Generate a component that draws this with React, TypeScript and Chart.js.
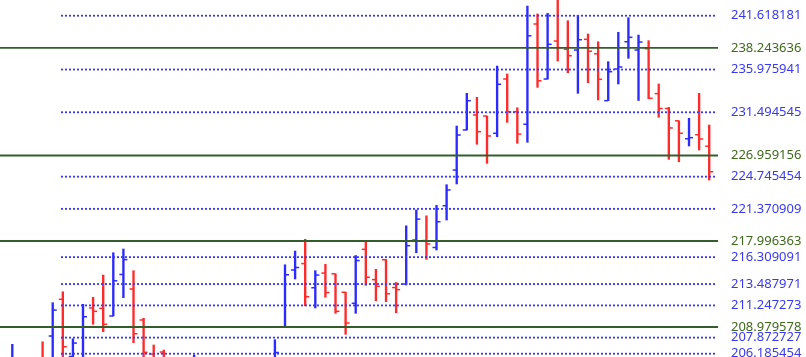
import React, { useEffect, useRef } from 'react';
import { Chart, registerables } from 'chart.js';

Chart.register(...registerables);

// OHLC values per bar index (null = bar entirely below the visible range / not shown)
const opens: (number | null)[] = [
  null, 205.2, null, null, 205.6, 208.04, 211.89, 205.9, 205.7, 210.98,
  210.94, 210.14, 214.49, 212.97, 209.72, 206.15, 206.36, null, null, 205.0,
  null, null, null, null, null, null, null, 205.5, 209.0, 214.96,
  215.63, 213.10, 214.64, 214.56, 212.63, 211.47, 217.13, 213.95, 216.04, 213.12,
  213.49, 218.10, 218.05, 217.32, 221.70, 225.44, 229.64, 231.21, 231.10, 229.29,
  234.98, 231.55, 230.24, 240.75, 234.98, 238.96, 238.10, 238.02, 239.14, 237.63,
  232.71, 236.03, 238.89, 238.02, 238.16, 233.45, 231.89, 230.60, 228.72, 229.14,
  227.94,
];
const highs: (number | null)[] = [
  null, 207.17, null, null, 207.44, 211.53, 212.68, 207.75, 211.36, 212.10,
  214.43, 216.77, 217.16, 214.89, 209.90, 207.10, 206.57, null, null, 206.05,
  null, null, null, null, null, null, null, 207.65, 215.51, 216.95,
  218.18, 214.89, 215.56, 214.56, 212.63, 216.48, 218.05, 215.03, 216.08, 213.65,
  219.59, 221.25, 220.64, 221.74, 223.90, 230.05, 233.48, 233.06, 231.10, 236.34,
  235.51, 231.97, 242.63, 241.80, 241.87, 243.50, 241.09, 241.66, 239.70, 238.89,
  236.80, 239.88, 241.41, 239.59, 239.00, 234.46, 232.01, 230.60, 230.86, 233.48,
  230.16,
];
const lows: (number | null)[] = [
  null, 205.0, null, null, 204.8, 205.5, 205.6, 205.5, 205.3, 209.27,
  208.49, 210.14, 212.06, 207.34, 205.5, 205.3, 205.2, null, null, 204.8,
  null, null, null, null, null, null, null, 205.2, 208.98, 214.02,
  211.21, 210.98, 212.10, 210.42, 208.22, 210.42, 213.35, 211.74, 211.64, 210.48,
  213.39, 216.77, 216.08, 217.06, 220.20, 223.98, 229.64, 228.14, 226.14, 228.93,
  230.44, 228.24, 228.35, 234.11, 234.98, 236.87, 235.64, 233.48, 234.59, 232.78,
  232.71, 234.46, 237.15, 232.73, 232.91, 230.97, 226.56, 226.31, 227.96, 227.54,
  224.39,
];
const closes: (number | null)[] = [
  null, 205.7, null, null, 205.0, 210.76, 206.92, 207.3, 210.06, 210.63,
  209.27, 213.83, 216.05, 208.28, 206.33, 205.7, 205.6, null, null, 205.7,
  null, null, null, null, null, null, null, 206.31, 214.46, 215.22,
  212.16, 214.43, 212.60, 210.63, 209.40, 215.95, 214.20, 213.25, 212.47, 212.90,
  217.51, 220.29, 217.69, 220.02, 223.35, 229.11, 232.71, 229.46, 229.01, 234.43,
  231.55, 229.21, 239.51, 234.80, 238.62, 238.26, 237.42, 239.10, 237.89, 234.95,
  235.75, 236.24, 239.35, 238.86, 232.96, 231.89, 229.85, 229.29, 228.83, 228.69,
  225.26,
];

// Horizontal level lines (dotted blue) and key levels (solid green)
const blueLevels = [
  241.618181, 235.975941, 231.494545, 224.745454, 221.370909,
  216.309091, 213.487971, 211.247273, 207.872727, 206.185454,
];
const greenLevels = [238.243636, 226.959156, 217.996363, 208.979578];

const UP = '#2b2bff';
const DOWN = '#ff2b2b';
const DOT_BLUE = '#3535ff';
const LINE_GREEN = '#335e2c';
const TEXT_BLUE = '#3838f4';
const TEXT_GREEN = '#3f6a1c';

const X_MIN = -0.218;
const X_MAX = 70.87;
const Y_MIN = 205.84;
const Y_MAX = 243.264;
const DOT_START = 5.82;
const DOT_END = 70.67;
const TICK_OFF = 0.2;

export default function App() {
  const ref = useRef<HTMLCanvasElement>(null);

  useEffect(() => {
    if (!ref.current) return;
    const idx = opens.map((_, i) => i).filter((i) => opens[i] != null);
    const colorOf = (i: number) => ((closes[i] as number) >= (opens[i] as number) ? UP : DOWN);

    const datasets: any[] = [];
    greenLevels.forEach((v) => {
      datasets.push({
        type: 'line',
        data: [{ x: X_MIN - 1, y: v }, { x: X_MAX, y: v }],
        borderColor: LINE_GREEN,
        borderWidth: 1.9,
        pointRadius: 0,
        pointHoverRadius: 0,
        order: 0,
      });
    });
    blueLevels.forEach((v) => {
      datasets.push({
        type: 'line',
        data: [{ x: DOT_START, y: v }, { x: DOT_END, y: v }],
        borderColor: DOT_BLUE,
        borderWidth: 1.8,
        borderDash: [2, 2],
        pointRadius: 0,
        pointHoverRadius: 0,
        order: 0,
      });
    });
    datasets.push({
      type: 'line',
      showLine: false,
      data: idx.map((i) => ({ x: i - TICK_OFF, y: opens[i] })),
      pointStyle: 'line',
      pointRadius: 2,
      pointHoverRadius: 2,
      pointBorderWidth: 1.5,
      pointBorderColor: idx.map(colorOf),
      pointBackgroundColor: idx.map(colorOf),
      order: 1,
    });
    datasets.push({
      type: 'line',
      showLine: false,
      data: idx.map((i) => ({ x: i + TICK_OFF, y: closes[i] })),
      pointStyle: 'line',
      pointRadius: 2,
      pointHoverRadius: 2,
      pointBorderWidth: 1.5,
      pointBorderColor: idx.map(colorOf),
      pointBackgroundColor: idx.map(colorOf),
      order: 1,
    });
    datasets.push({
      type: 'bar',
      data: idx.map((i) => ({ x: i, y: [lows[i], highs[i]] })),
      backgroundColor: idx.map(colorOf),
      barThickness: 1.7,
      grouped: false,
      order: 2,
    });

    const chart = new Chart(ref.current, {
      type: 'bar',
      data: { datasets },
      options: {
        animation: false,
        responsive: false,
        events: [],
        layout: { padding: 0, autoPadding: false },
        plugins: { legend: { display: false }, tooltip: { enabled: false }, title: { display: false } },
        scales: {
          x: {
            type: 'linear',
            display: false,
            min: X_MIN,
            max: X_MAX,
            offset: false,
          },
          y: {
            type: 'linear',
            position: 'right',
            min: Y_MIN,
            max: Y_MAX,
            grid: { display: false, drawTicks: false, tickLength: 0 },
            border: { display: false },
            afterBuildTicks: (s: any) => {
              s.ticks = [...blueLevels, ...greenLevels].sort((a, b) => b - a).map((v) => ({ value: v }));
            },
            afterFit: (s: any) => {
              s.width = 88;
              s.paddingTop = 0;
              s.paddingBottom = 0;
            },
            ticks: {
              autoSkip: false,
              padding: 13,
              font: { family: 'Noto Sans', size: 13 },
              color: (ctx: any) => (greenLevels.includes(ctx.tick?.value) ? TEXT_GREEN : TEXT_BLUE),
              callback: (v: any) => Number(v).toFixed(6),
            },
          },
        },
      } as any,
    });
    return () => chart.destroy();
  }, []);

  return (
    <div style={{ position: 'absolute', left: 0, top: 0, width: 806, height: 357, background: '#fff' }}>
      <canvas ref={ref} width={806} height={357} style={{ display: 'block' }} />
    </div>
  );
}
